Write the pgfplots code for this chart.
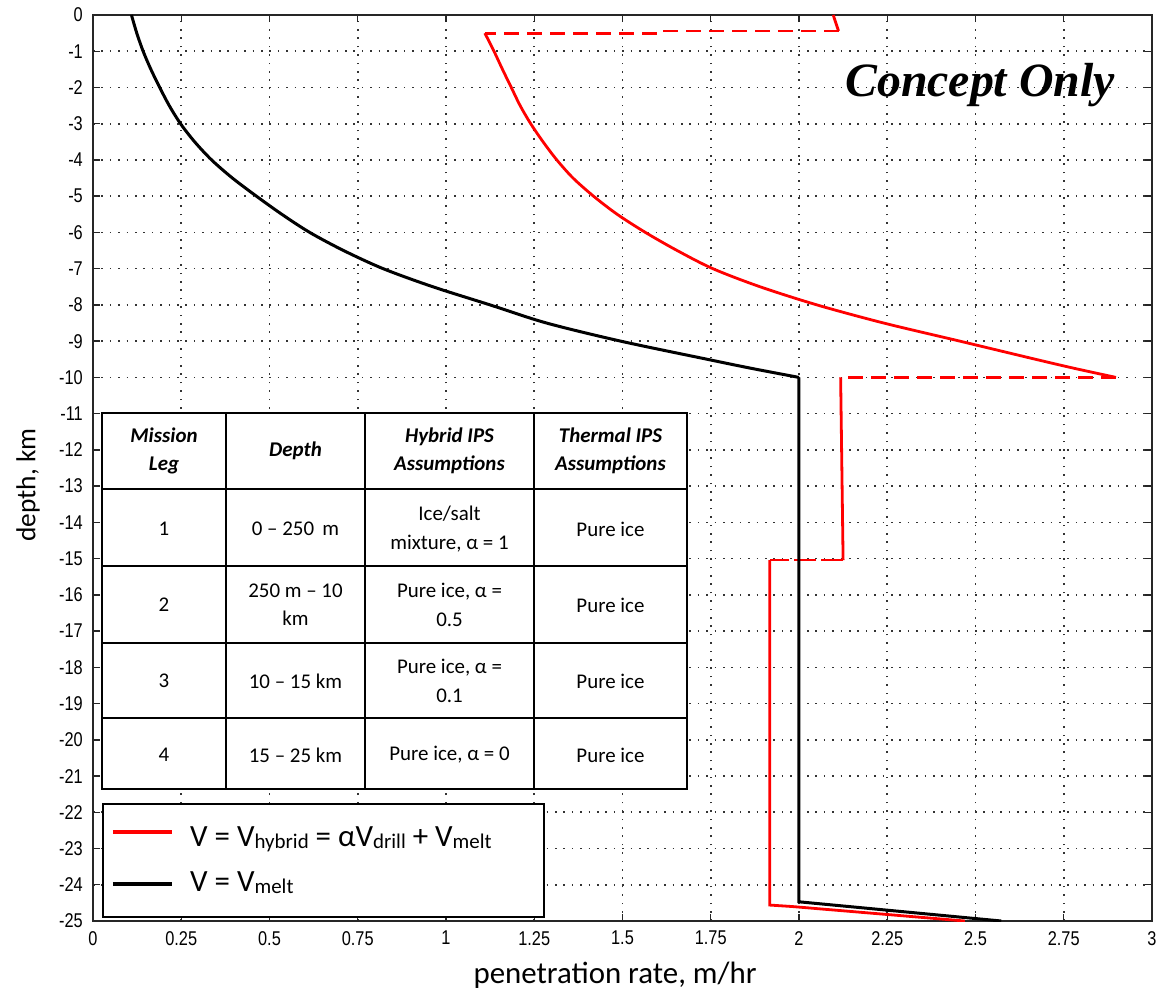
\documentclass[border=0pt]{standalone}
\usepackage{pgfplots}
\pgfplotsset{compat=1.18}
\usepackage{fontspec}
\setmainfont{Carlito}
\newfontfamily\tickf[FakeStretch=0.82]{Liberation Sans}
\newfontfamily\cof{Liberation Serif}
\newcommand\sub[1]{\raisebox{-1.5bp}{\fontsize{21}{21}\selectfont #1}}
\begin{document}
\begin{tikzpicture}
\begin{scope}[x=1bp,y=-1bp,shift={(-93bp,921bp)}]
\useasboundingbox (0,0) rectangle (1159,997);
\end{scope}
\begin{axis}[
  at={(0,0)}, anchor=south west, scale only axis,
  width=1059bp, height=906bp,
  xmin=0, xmax=3, ymin=-25, ymax=0,
  xtick={0,0.25,0.5,0.75,1,1.25,1.5,1.75,2,2.25,2.5,2.75,3},
  xticklabels={0,0.25,0.5,0.75,1,1.25,1.5,1.75,2,2.25,2.5,2.75,3},
  ytick={-25,-24,-23,-22,-21,-20,-19,-18,-17,-16,-15,-14,-13,-12,-11,-10,-9,-8,-7,-6,-5,-4,-3,-2,-1,0},
  yticklabels={-25,-24,-23,-22,-21,-20,-19,-18,-17,-16,-15,-14,-13,-12,-11,-10,-9,-8,-7,-6,-5,-4,-3,-2,-1,0},
  ticklabel style={font=\tickf\fontsize{20}{20}\selectfont, inner sep=0pt},
  xticklabel style={anchor=north, yshift=-10bp},
  yticklabel style={anchor=east, xshift=-10bp},
  grid=major,
  major grid style={black!80, line width=1.6bp, dash pattern=on 1.6bp off 6.8bp},
  tick align=inside, major tick length=7bp,
  tick style={black!85, line width=1.4bp},
  axis line style={black!85, line width=1.8bp},
  xlabel={penetration rate, m/hr}, ylabel={depth, km},
  xlabel style={font=\fontsize{31}{31}\selectfont, at={(axis description cs:0.493,-0.0596)}, anchor=center},
  ylabel style={font=\fontsize{27.5}{27.5}\selectfont, at={(axis description cs:-0.0614,0.481)}, anchor=center},
]
% red (hybrid) pieces
\addplot[red, line width=2.8bp] coordinates {(2.097,0) (2.112,-0.44)};
\addplot[red, line width=2.8bp, dash pattern=on 15bp off 8bp] coordinates {(2.112,-0.44) (1.60,-0.44) (1.60,-0.5) (1.11,-0.5)};
\addplot[red, line width=2.8bp, smooth] coordinates {
(1.11,-0.5) (1.136,-1) (1.16,-1.5) (1.185,-2) (1.21,-2.5) (1.24,-3) (1.275,-3.5)
(1.314,-4) (1.36,-4.5) (1.418,-5) (1.485,-5.5) (1.565,-6) (1.655,-6.5) (1.756,-7)
(1.89,-7.5) (2.051,-8) (2.24,-8.5) (2.456,-9) (2.67,-9.5) (2.78,-9.75) (2.898,-10)};
\addplot[red, line width=2.8bp, dash pattern=on 15bp off 8bp] coordinates {(2.898,-10) (2.118,-10)};
\addplot[red, line width=2.8bp] coordinates {(2.118,-10) (2.125,-15.04)};
\addplot[red, line width=2.8bp, dash pattern=on 22bp off 5bp] coordinates {(2.125,-15.04) (1.917,-15.04)};
\addplot[red, line width=2.8bp] coordinates {(1.917,-15.04) (1.917,-24.56) (1.98,-24.6) (2.47,-25)};
% black (melt)
\addplot[black, line width=3bp, smooth] coordinates {
(0.109,0) (0.124,-0.5) (0.142,-1) (0.164,-1.5) (0.189,-2) (0.216,-2.5) (0.248,-3)
(0.288,-3.5) (0.336,-4) (0.395,-4.5) (0.463,-5) (0.535,-5.5) (0.614,-6) (0.71,-6.5)
(0.822,-7) (0.963,-7.5) (1.125,-8) (1.285,-8.5) (1.495,-9) (1.74,-9.5) (1.865,-9.75)
(2.0,-10)};
\addplot[black, line width=3bp] coordinates {(2.0,-10) (2.0,-24.47) (2.573,-25)};
\end{axis}
\begin{scope}[x=1bp,y=-1bp,shift={(-93bp,921bp)}]
% legend
\draw[line width=1.6bp, fill=white] (103,804) rectangle (544,917);
\draw[red, line width=3.5bp] (113,832) -- (172,832);
\draw[black, line width=3.5bp] (113,884) -- (172,884);
\node[anchor=base west, inner sep=0pt, font=\fontsize{31}{31}\selectfont] at (190,847) {V = V\sub{hybrid} = αV\sub{drill} + V\sub{melt}};
\node[anchor=base west, inner sep=0pt, font=\fontsize{31}{31}\selectfont] at (190,892) {V = V\sub{melt}};
% table
\fill[white] (102,413) rectangle (687,789);
\draw[line width=2.2bp] (102,413) rectangle (687,789);
\foreach \xx in {226,365,534} \draw[line width=2.2bp] (\xx,413) -- (\xx,789);
\foreach \yy in {489,566,643,718} \draw[line width=2.2bp] (102,\yy) -- (687,\yy);
\tikzset{tc/.style={align=center, inner sep=0pt, font=\fontsize{21}{28.5}\selectfont}}
\node[tc, font=\fontsize{21}{28.5}\selectfont\bfseries\itshape] at (164,451) {Mission\\Leg};
\node[tc, font=\fontsize{21}{28.5}\selectfont\bfseries\itshape] at (295.5,451) {Depth};
\node[tc, font=\fontsize{21}{28.5}\selectfont\bfseries\itshape] at (449.5,451) {Hybrid IPS\\Assumptions};
\node[tc, font=\fontsize{21}{28.5}\selectfont\bfseries\itshape] at (610.5,451) {Thermal IPS\\Assumptions};
\node[tc] at (164,529) {1};
\node[tc] at (295.5,529) {0 – 250 \,m};
\node[tc] at (449.5,529) {Ice/salt\\mixture, α = 1};
\node[tc] at (610.5,529) {Pure ice};
\node[tc] at (164,605) {2};
\node[tc] at (295.5,605) {250 m – 10\\km};
\node[tc] at (449.5,605) {Pure ice, α =\\0.5};
\node[tc] at (610.5,605) {Pure ice};
\node[tc] at (164,681) {3};
\node[tc] at (295.5,681) {10 – 15 km};
\node[tc] at (449.5,681) {Pure ice, α =\\0.1};
\node[tc] at (610.5,681) {Pure ice};
\node[tc] at (164,755) {4};
\node[tc] at (295.5,755) {15 – 25 km};
\node[tc] at (449.5,755) {Pure ice, α = 0};
\node[tc] at (610.5,755) {Pure ice};
\node[anchor=base west, inner sep=0pt, font=\cof\bfseries\itshape\fontsize{48}{48}\selectfont] at (845,97) {Concept Only};
\end{scope}
\end{tikzpicture}
\end{document}
